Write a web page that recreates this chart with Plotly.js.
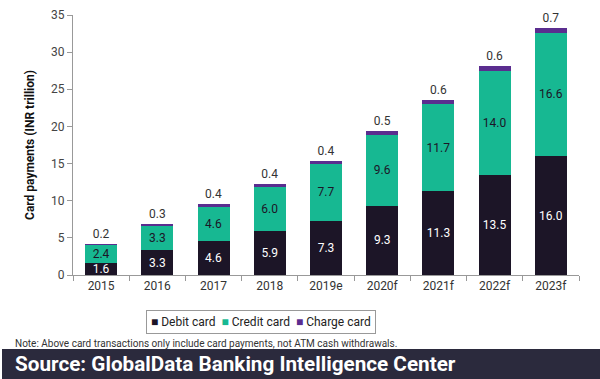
<!DOCTYPE html>
<html><head><meta charset="utf-8">
<script src="https://cdn.plot.ly/plotly-3.0.1.min.js"></script>
<style>html,body{margin:0;padding:0;background:#fff;}#chart{width:600px;height:379px;}</style>
</head><body><div id="chart"></div>
<script>
const years = ['2015','2016','2017','2018','2019e','2020f','2021f','2022f','2023f'];
const debit = [1.6,3.3,4.6,5.9,7.3,9.3,11.3,13.5,16.0];
const credit = [2.4,3.3,4.6,6.0,7.7,9.6,11.7,14.0,16.6];
const charge = [0.2,0.3,0.4,0.4,0.4,0.5,0.6,0.6,0.7];
const seriesNames = ['Debit card','Credit card','Charge card'];
const seriesColors = ['#1c1527','#17b892','#5a2d8f'];
const FONT = 'Roboto, "Open Sans", sans-serif';
const fmt = v => v.toFixed(1);
const traces = [
  {type:'bar', name:seriesNames[0], x:years, y:debit, marker:{color:seriesColors[0]},
   text:debit.map(fmt), textposition:'inside', insidetextanchor:'middle', constraintext:'none',
   textfont:{color:'#ffffff', size:12, family:FONT}, hoverinfo:'none'},
  {type:'bar', name:seriesNames[1], x:years, y:credit, marker:{color:seriesColors[1]},
   text:credit.map(fmt), textposition:'inside', insidetextanchor:'middle', constraintext:'none',
   textfont:{color:'#1c1527', size:12, family:FONT}, hoverinfo:'none'},
  {type:'bar', name:seriesNames[2], x:years, y:charge, marker:{color:seriesColors[2]},
   text:charge.map(fmt), textposition:'outside', constraintext:'none', cliponaxis:false,
   textfont:{color:'#333333', size:12, family:FONT}, hoverinfo:'none'}
];
const legendText = seriesNames.map((n,i)=>'<span style="color:'+seriesColors[i]+'">■</span> '+n).join('  ');
const W = 506, H = 260;
const layout = {
  width:600, height:379, barmode:'stack', bargap:0.43,
  margin:{l:73, r:21, t:15, b:104},
  paper_bgcolor:'#fff', plot_bgcolor:'#fff',
  font:{family:FONT, color:'#333', size:12},
  showlegend:false,
  xaxis:{type:'category', showline:true, linecolor:'#999', linewidth:1, ticks:'outside', tickson:'boundaries',
    ticklen:5, tickcolor:'#999', tickfont:{size:12, color:'#333'}, showgrid:false, zeroline:false},
  yaxis:{range:[0,35], dtick:5, showline:true, linecolor:'#999', linewidth:1, ticks:'outside', ticklen:5,
    tickcolor:'#999', tickfont:{size:12, color:'#444'}, showgrid:false, zeroline:false,
    title:{text:'<b>Card payments (INR trillion)</b>', font:{size:12, color:'#111'}, standoff:13}},
  shapes:[
    {type:'rect', xref:'paper', yref:'paper', x0:-71/W, x1:(600-73)/W, y0:-104/H, y1:-74/H,
     fillcolor:'#2b2a3d', line:{width:0}, layer:'above'}
  ],
  annotations:[
    {xref:'paper', yref:'paper', x:(261-73)/W, y:-47/H, xanchor:'center', yanchor:'middle', showarrow:false,
     text:legendText, font:{size:12, color:'#222', family:FONT}, bordercolor:'#999', borderwidth:1, borderpad:4,
     bgcolor:'#fff'},
    {xref:'paper', yref:'paper', x:-60/W, y:-68/H, xanchor:'left', yanchor:'middle', showarrow:false,
     text:'Note: Above card transactions only include card payments, not ATM cash withdrawals.',
     font:{size:10, color:'#333', family:FONT}},
    {xref:'paper', yref:'paper', x:-60/W, y:-89/H, xanchor:'left', yanchor:'middle', showarrow:false,
     text:'<b>Source: GlobalData Banking Intelligence Center</b>',
     font:{size:20.7, color:'#ffffff', family:FONT}}
  ]
};
Plotly.newPlot('chart', traces, layout, {displayModeBar:false, staticPlot:true});
</script></body></html>
